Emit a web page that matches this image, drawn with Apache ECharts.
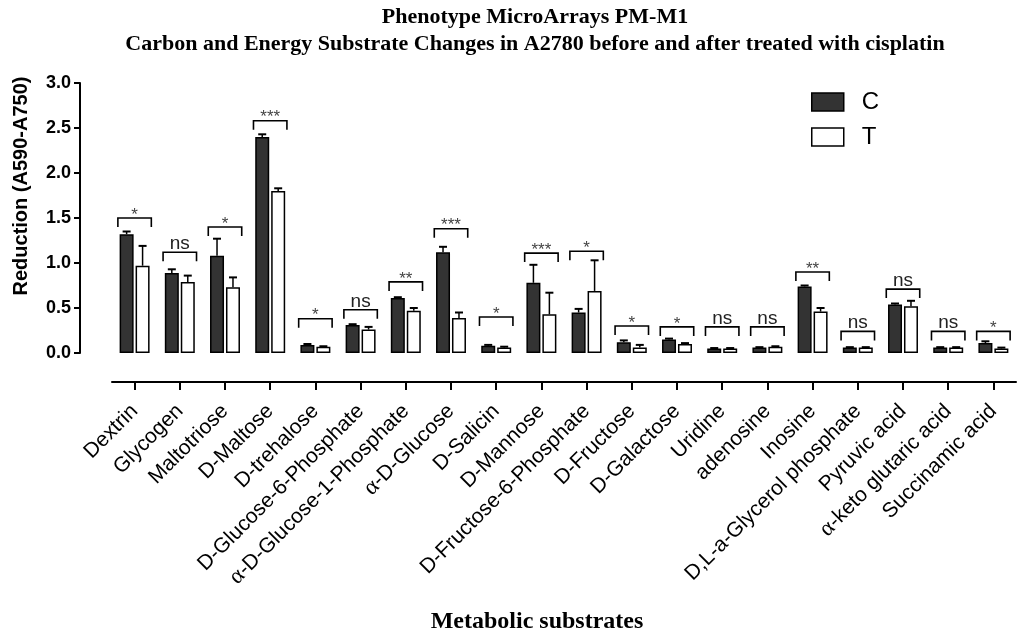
<!DOCTYPE html>
<html>
<head>
<meta charset="utf-8">
<title>Phenotype MicroArrays PM-M1</title>
<script src="https://cdn.jsdelivr.net/npm/echarts@6/dist/echarts.min.js"></script>
<style>
  html, body { margin: 0; padding: 0; background: #fff; }
  #chart { width: 1020px; height: 637px; }
</style>
</head>
<body>
<div id="chart"></div>
<script>
// Metabolic substrates on the PM-M1 plate
const categories = [
  'Dextrin', 'Glycogen', 'Maltotriose', 'D-Maltose', 'D-trehalose',
  'D-Glucose-6-Phosphate', 'α-D-Glucose-1-Phosphate', 'α-D-Glucose', 'D-Salicin', 'D-Mannose',
  'D-Fructose-6-Phosphate', 'D-Fructose', 'D-Galactose', 'Uridine', 'adenosine',
  'Inosine', 'D,L-a-Glycerol phosphate', 'Pyruvic acid', 'α-keto glutaric acid', 'Succinamic acid'
];

// Reduction (A590-A750), control cells (C)
const controlMean = [1.32, 0.89, 1.08, 2.40, 0.09, 0.31, 0.61, 1.12, 0.08, 0.78,
                     0.45, 0.12, 0.15, 0.05, 0.06, 0.74, 0.06, 0.54, 0.06, 0.11];
const controlErr  = [0.03, 0.04, 0.19, 0.03, 0.01, 0.01, 0.01, 0.06, 0.01, 0.20,
                     0.04, 0.02, 0.01, 0.005, 0.005, 0.01, 0.005, 0.01, 0.005, 0.02];

// Reduction (A590-A750), cisplatin-treated cells (T)
const treatedMean = [0.97, 0.79, 0.73, 1.80, 0.07, 0.26, 0.47, 0.39, 0.06, 0.43,
                     0.69, 0.06, 0.10, 0.05, 0.07, 0.46, 0.06, 0.52, 0.06, 0.05];
const treatedErr  = [0.22, 0.07, 0.11, 0.03, 0.005, 0.03, 0.03, 0.06, 0.01, 0.24,
                     0.34, 0.03, 0.01, 0.005, 0.005, 0.04, 0.005, 0.06, 0.005, 0.01];

// Height of the comparison bracket and the significance mark above it
const bracketLevel = [1.50, 1.12, 1.40, 2.58, 0.38, 0.48, 0.79, 1.38, 0.40, 1.11,
                      1.13, 0.30, 0.29, 0.29, 0.29, 0.90, 0.24, 0.71, 0.24, 0.24];
const significance = ['*', 'ns', '*', '***', '*', 'ns', '**', '***', '*', '***',
                      '*', '*', '*', 'ns', 'ns', '**', 'ns', 'ns', 'ns', '*'];

const yTicks = [0, 0.5, 1.0, 1.5, 2.0, 2.5, 3.0];

const BAR_W = 14;
const BAR_GAP = 0.14;
const SANS = '"Liberation Sans", Arial, sans-serif';
const SERIF = '"Liberation Serif", "Times New Roman", serif';

const chart = echarts.init(document.getElementById('chart'), null, { renderer: 'canvas' });

// centre offset of each bar of a pair from the category centre
const pairOffset = BAR_W * (1 + BAR_GAP) / 2;

function errorBarItem(params, api) {
  const i = api.value(0);
  const children = [];
  [[api.value(1), api.value(2), -pairOffset], [api.value(3), api.value(4), pairOffset]].forEach(function (g) {
    const base = api.coord([i, g[0]]);
    const top = api.coord([i, g[0] + g[1]]);
    const x = base[0] + g[2];
    children.push({
      type: 'line',
      shape: { x1: x, y1: base[1], x2: x, y2: top[1] },
      style: { stroke: '#000', lineWidth: 1.5 }
    });
    children.push({
      type: 'line',
      shape: { x1: x - 4, y1: top[1], x2: x + 4, y2: top[1] },
      style: { stroke: '#000', lineWidth: 2 }
    });
  });
  return { type: 'group', children: children };
}

function bracketItem(params, api) {
  const i = api.value(0);
  const p = api.coord([i, api.value(1)]);
  const band = api.size([1, 0])[0];
  const half = band * 0.37;
  const x = p[0], y = p[1];
  const mark = significance[i];
  const isNs = mark === 'ns';
  return {
    type: 'group',
    children: [
      {
        type: 'polyline',
        shape: { points: [[x - half, y + 9], [x - half, y], [x + half, y], [x + half, y + 9]] },
        style: { stroke: '#000', lineWidth: 1.6, fill: null }
      },
      {
        type: 'text',
        style: isNs ? {
          text: mark, x: x, y: y + 1, align: 'center', verticalAlign: 'bottom',
          font: '19px ' + SANS, fill: '#222'
        } : {
          text: mark, x: x, y: y - 3, align: 'center', verticalAlign: 'middle',
          font: '17px ' + SANS, fill: '#444'
        }
      }
    ]
  };
}

const option = {
  backgroundColor: '#fff',
  animation: false,
  title: {
    text: 'Phenotype MicroArrays PM-M1\nCarbon and Energy Substrate Changes in A2780 before and after treated with cisplatin',
    left: 535,
    top: 4,
    padding: 0,
    textAlign: 'center',
    textStyle: {
      fontFamily: SERIF, fontWeight: 'bold', fontSize: 22, lineHeight: 27, color: '#000'
    }
  },
  legend: {
    orient: 'vertical',
    left: 811,
    top: 90,
    padding: 0,
    itemWidth: 32,
    itemHeight: 18,
    itemGap: 11,
    icon: 'rect',
    textStyle: { fontFamily: SANS, fontSize: 24, color: '#000', padding: [0, 0, 0, 13] },
    data: [
      { name: 'C', itemStyle: { color: '#333', borderColor: '#000', borderWidth: 1.5 } },
      { name: 'T', itemStyle: { color: '#fff', borderColor: '#000', borderWidth: 1.5 } }
    ]
  },
  grid: { left: 112, right: 4, top: 83, bottom: 284, outerBoundsMode: 'none' },
  xAxis: {
    type: 'category',
    data: categories,
    offset: 29,
    boundaryGap: true,
    name: 'Metabolic substrates',
    nameLocation: 'middle',
    nameGap: 228,
    nameTextStyle: {
      fontFamily: SERIF, fontWeight: 'bold', fontSize: 24, color: '#000', padding: [0, 54, 0, 0]
    },
    axisLine: { show: true, onZero: false, lineStyle: { color: '#000', width: 2 } },
    axisTick: { show: true, interval: 0, alignWithLabel: true, length: 8, lineStyle: { color: '#000', width: 2 } },
    axisLabel: {
      interval: 0,
      rotate: 45,
      margin: 26,
      fontFamily: SANS,
      fontSize: 21,
      color: '#000',
      formatter: function (v) { return v.replace('α', '{g|α}'); },
      rich: { g: { fontFamily: SERIF, fontSize: 23, color: '#000' } }
    }
  },
  yAxis: {
    type: 'value',
    min: yTicks[0],
    max: yTicks[yTicks.length - 1],
    interval: 0.5,
    offset: 32,
    name: 'Reduction (A590-A750)',
    nameLocation: 'middle',
    nameRotate: 90,
    nameGap: 49,
    nameTextStyle: {
      fontFamily: SANS, fontWeight: 'bold', fontSize: 20, color: '#000', padding: [0, 0, 0, 64]
    },
    splitLine: { show: false },
    axisLine: { show: true, lineStyle: { color: '#000', width: 2 } },
    axisTick: { show: true, length: 6, lineStyle: { color: '#000', width: 2 } },
    axisLabel: {
      margin: 9,
      fontFamily: SANS,
      fontWeight: 'bold',
      fontSize: 18,
      color: '#000',
      formatter: function (v) { return v.toFixed(1); }
    }
  },
  series: [
    {
      name: 'C',
      type: 'bar',
      data: controlMean,
      barWidth: BAR_W,
      barGap: (BAR_GAP * 100) + '%',
      itemStyle: { color: '#333', borderColor: '#000', borderWidth: 1.5 }
    },
    {
      name: 'T',
      type: 'bar',
      data: treatedMean,
      barWidth: BAR_W,
      itemStyle: { color: '#fff', borderColor: '#000', borderWidth: 1.5 }
    },
    {
      name: 'error',
      type: 'custom',
      renderItem: errorBarItem,
      data: categories.map(function (c, i) {
        return [i, controlMean[i], controlErr[i], treatedMean[i], treatedErr[i]];
      }),
      z: 3,
      silent: true
    },
    {
      name: 'significance',
      type: 'custom',
      renderItem: bracketItem,
      data: categories.map(function (c, i) { return [i, bracketLevel[i]]; }),
      z: 3,
      silent: true
    }
  ]
};

chart.setOption(option);
</script>
</body>
</html>
